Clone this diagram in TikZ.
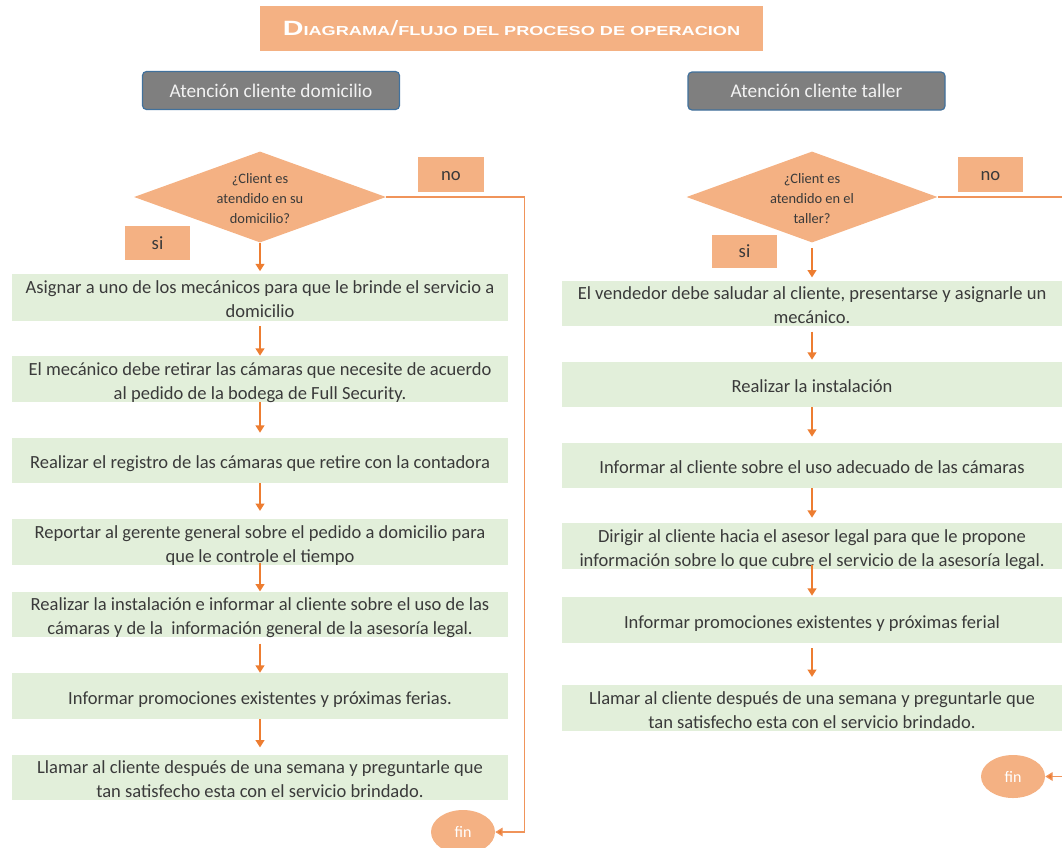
\documentclass[tikz,border=0pt]{standalone}
\usepackage{fontspec}
\usepackage{graphicx}
\setmainfont{Carlito}
\newfontfamily\titlefont{Liberation Sans}
\usetikzlibrary{shapes.geometric,arrows.meta}
\definecolor{salmon}{HTML}{F4B183}
\definecolor{boxgreen}{HTML}{E2EFDA}
\definecolor{arrorange}{HTML}{ED7D31}
\definecolor{linesalmon}{HTML}{F0945A}
\definecolor{hdrgray}{HTML}{7F7F7F}
\definecolor{hdrborder}{HTML}{41719C}
\definecolor{hdrtext}{HTML}{F2F2F2}
\definecolor{txtgray}{HTML}{3A3A3A}
\tikzset{
  sz/.style 2 args={minimum width=#1*0.75pt, minimum height=#2*0.75pt},
  pbox/.style={fill=boxgreen, draw=none, align=center, inner sep=0pt,
    text=txtgray, font=\fontsize{13.9}{18}\selectfont,
    text height=14.2pt, text depth=2pt},
  twoline/.style={text height=32.2pt},
  hdr/.style={fill=hdrgray, draw=hdrborder, line width=0.9pt, rounded corners=3pt,
    text=hdrtext, inner sep=0pt, font=\fontsize{14.5}{16}\selectfont},
  tag/.style={fill=salmon, draw=none, inner sep=0pt, text=txtgray,
    font=\fontsize{14}{16}\selectfont, text height=9.5pt, text depth=0pt},
  dec/.style={diamond, fill=salmon, draw=none, inner sep=0pt},
  dectext/.style={align=center, inner sep=0pt, text=txtgray,
    font=\fontsize{10.8}{15}\selectfont},
  finnode/.style={ellipse, fill=salmon, draw=none, inner sep=0pt, text=white,
    font=\fontsize{12}{13}\selectfont},
  arr/.style={draw=arrorange, line width=1.5pt, -{Triangle[width=6.5pt,length=5.5pt]}},
  noline/.style={draw=linesalmon, line width=0.9pt},
  noarr/.style={draw=linesalmon, line width=0.9pt, -{Triangle[width=6.5pt,length=5.5pt,fill=arrorange]}},
}
\begin{document}
\begin{tikzpicture}[x=0.75pt,y=-0.75pt]
\useasboundingbox (0,0) rectangle (1062,847);

% title
\node[fill=salmon, sz={503}{45}, inner sep=0pt, text=white] (title) at (511.5,28.5)
  {\resizebox{343pt}{\height}{\titlefont\bfseries\fontsize{15.5}{16}\selectfont D\fontsize{9.8}{10}\selectfont IAGRAMA{\mdseries\fontsize{15.5}{16}\selectfont/}FLUJO DEL PROCESO DE OPERACION}};

% headers
\node[hdr, sz={257}{38}] (h1) at (271,90.5) {Atención cliente domicilio};
\node[hdr, sz={257}{38}] (h2) at (816.5,91) {Atención cliente taller};

% left decision
\node[dec, sz={252}{91}] (d1) at (260,197) {};
\node[dectext, yshift=-1.5pt] (d1t) at (d1.center) {¿Client es\\atendido en su\\domicilio?};
\node[tag, sz={66}{35}] (no1) at (451,174.5) {no};
\node[tag, sz={65}{34}] (si1) at (157.5,243) {si};

% right decision
\node[dec, sz={251}{91}] (d2) at (812,197) {};
\node[dectext, yshift=-1.5pt] (d2t) at (d2.center) {¿Client es\\atendido en el\\taller?};
\node[tag, sz={65}{35}] (no2) at (990.5,174.5) {no};
\node[tag, sz={65}{33}] (si2) at (744.5,251.5) {si};

% left column
\node[pbox, twoline, sz={496}{47}] (l1) at (260,297.5) {Asignar a uno de los mecánicos para que le brinde el servicio a\\domicilio};
\node[pbox, twoline, sz={496}{46}] (l2) at (260,379) {El mecánico debe retirar las cámaras que necesite de acuerdo\\al pedido de la bodega de Full Security.};
\node[pbox, sz={496}{45}] (l3) at (260,460.5) {Realizar el registro de las cámaras que retire con la contadora};
\node[pbox, twoline, sz={496}{44}] (l4) at (260,542) {Reportar al gerente general sobre el pedido a domicilio para\\que le controle el tiempo};
\node[pbox, twoline, sz={496}{45}] (l5) at (260,614.5) {Realizar la instalación e informar al cliente sobre el uso de las\\cámaras y de la \ información general de la asesoría legal.};
\node[pbox, sz={496}{46}] (l6) at (260,696) {Informar promociones existentes y próximas ferias.};
\node[pbox, twoline, sz={496}{45}] (l7) at (260,777.5) {Llamar al cliente después de una semana y preguntarle que\\tan satisfecho esta con el servicio brindado.};

% right column
\node[pbox, twoline, sz={500}{45}] (r1) at (812,303.5) {El vendedor debe saludar al cliente, presentarse y asignarle un\\mecánico.};
\node[pbox, sz={500}{45}] (r2) at (812,384.5) {Realizar la instalación};
\node[pbox, sz={500}{45}] (r3) at (812,465.5) {Informar al cliente sobre el uso adecuado de las cámaras};
\node[pbox, twoline, sz={500}{46}] (r4) at (812,546) {Dirigir al cliente hacia el asesor legal para que le propone\\información sobre lo que cubre el servicio de la asesoría legal.};
\node[pbox, sz={500}{46}] (r5) at (812,620) {Informar promociones existentes y próximas ferial};
\node[pbox, twoline, sz={500}{44}] (r6) at (812,708) {Llamar al cliente después de una semana y preguntarle que\\tan satisfecho esta con el servicio brindado.};

% fin nodes
\node[finnode, sz={64}{44}] (fin1) at (463,832) {fin};
\node[finnode, sz={64}{43}] (fin2) at (1013,776.5) {fin};

% left arrows
\draw[arr, shorten >=2.5*0.75pt] (d1.south) -- (l1.north);
\draw[arr, shorten <=5*0.75pt] (l1.south) -- (l2.north);
\draw[arr, shorten >=5*0.75pt] (l2.south) -- (l3.north);
\draw[arr, shorten >=8*0.75pt] (l3.south) -- (l4.north);
\draw[arr, shorten <=-2*0.75pt] (l4.south) -- (l5.north);
\draw[arr, shorten <=6*0.75pt] (l5.south) -- (l6.north);
\draw[arr, shorten >=7*0.75pt] (l6.south) -- (l7.north);

% right arrows
\draw[arr, shorten <=5*0.75pt, shorten >=3*0.75pt] (d2.south) -- (r1.north);
\draw[arr, shorten <=5*0.75pt, shorten >=2*0.75pt] (r1.south) -- (r2.north);
\draw[arr, shorten >=6*0.75pt] (r2.south) -- (r3.north);
\draw[arr, shorten >=5*0.75pt] (r3.south) -- (r4.north);
\draw[arr, shorten <=-4*0.75pt, shorten >=1*0.75pt] (r4.south) -- (r5.north);
\draw[arr, shorten <=5*0.75pt, shorten >=8*0.75pt] (r5.south) -- (r6.north);

% no connectors
\draw[noarr] (d1.east) -- ++(138,0) |- (fin1.east);
\coordinate (redge) at (1062,197);
\draw[noline] (d2.east) -- (redge);
\coordinate (rin) at (1062,776.5);
\draw[noarr] (rin) -- (fin2.east);
\end{tikzpicture}
\end{document}
